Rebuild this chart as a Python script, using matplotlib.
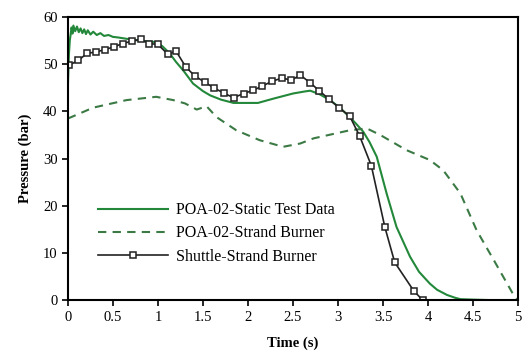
import matplotlib
matplotlib.use("Agg")
import matplotlib.pyplot as plt

plt.rcParams["font.family"] = ["Liberation Serif", "DejaVu Serif"]

# POA-02 static motor test (pressure trace)
static_t = [0.0, 0.01, 0.02, 0.04, 0.05, 0.06, 0.08, 0.10, 0.12, 0.14, 0.16, 0.18,
            0.20, 0.22, 0.25, 0.28, 0.32, 0.36, 0.40, 0.45, 0.50, 0.55, 0.65, 0.80,
            0.98, 1.05, 1.13, 1.20, 1.28, 1.39, 1.50, 1.58, 1.70, 1.84, 2.00, 2.11,
            2.28, 2.36, 2.50, 2.62, 2.69, 2.79, 2.91, 3.02, 3.13, 3.20, 3.28, 3.35,
            3.43, 3.54, 3.65, 3.80, 3.90, 4.02, 4.10, 4.21, 4.30, 4.36, 4.50, 4.70,
            4.80]
static_p = [46.0, 52.0, 55.0, 57.8, 56.5, 58.2, 57.0, 58.0, 56.8, 57.6, 56.6, 57.4,
            56.4, 57.2, 56.3, 56.9, 56.2, 56.6, 56.0, 56.2, 55.8, 55.7, 55.4, 55.0,
            54.7, 53.8, 52.3, 50.5, 48.7, 45.9, 44.3, 43.4, 42.5, 41.8, 41.8, 41.8,
            42.7, 43.1, 43.8, 44.2, 44.4, 43.7, 42.4, 40.8, 38.8, 37.4, 35.7, 33.5,
            30.4, 22.6, 15.5, 9.2, 6.0, 3.5, 2.2, 1.1, 0.5, 0.2, 0.1, 0.0, 0.0]

# POA-02 strand burner prediction
strand_t = [0.0, 0.28, 0.65, 0.98, 1.17, 1.30, 1.43, 1.54, 1.65, 1.87, 2.13, 2.39,
            2.58, 2.73, 3.13, 3.32, 3.47, 3.76, 4.02, 4.17, 4.36, 4.54, 4.73, 4.95,
            5.0]
strand_p = [38.5, 40.8, 42.4, 43.1, 42.4, 41.7, 40.4, 41.1, 38.8, 36.0, 33.9, 32.5,
            33.2, 34.3, 36.0, 36.4, 35.0, 31.8, 29.7, 27.5, 22.6, 14.8, 8.5, 1.1,
            0.0]

# Shuttle strand burner
shuttle_t = [0.01, 0.115, 0.21, 0.31, 0.41, 0.51, 0.61, 0.71, 0.81, 0.90, 1.00,
             1.11, 1.20, 1.31, 1.41, 1.52, 1.62, 1.73, 1.84, 1.95, 2.06, 2.16,
             2.27, 2.38, 2.48, 2.58, 2.69, 2.79, 2.90, 3.01, 3.13, 3.24, 3.37,
             3.52, 3.63, 3.84, 3.94]
shuttle_p = [49.8, 50.8, 52.3, 52.6, 53.1, 53.7, 54.4, 54.9, 55.3, 54.4, 54.2,
             52.1, 52.8, 49.4, 47.5, 46.2, 45.0, 43.9, 42.9, 43.8, 44.5, 45.4,
             46.4, 47.1, 46.6, 47.7, 46.1, 44.4, 42.6, 40.8, 39.0, 34.8, 28.5,
             15.5, 8.0, 2.0, 0.0]

x_ticks = [0, 0.5, 1, 1.5, 2, 2.5, 3, 3.5, 4, 4.5, 5]
x_labels = ["0", "0.5", "1", "1.5", "2", "2.5", "3", "3.5", "4", "4.5", "5"]
y_ticks = [0, 10, 20, 30, 40, 50, 60]

fig = plt.figure(figsize=(5.27, 3.56), dpi=100)
ax = fig.add_axes([0.129, 0.157, 0.854, 0.795])

ax.plot(static_t, static_p, color="#23883a", lw=1.5, label="POA-02-Static Test Data")
ax.plot(strand_t, strand_p, color="#3b7a44", lw=1.5, ls=(0, (4, 3)),
        label="POA-02-Strand Burner")
ax.plot(shuttle_t, shuttle_p, color="#222222", lw=1.2, marker="s", ms=5,
        mfc="white", mec="#222222", mew=1.1, label="Shuttle-Strand Burner")

ax.set_xlim(0, 5)
ax.set_ylim(0, 60)
ax.set_xticks(x_ticks)
ax.set_xticklabels(x_labels)
ax.set_yticks(y_ticks)
ax.tick_params(direction="out", length=4, width=1.2, labelsize=10.5, colors="black")
for side in ax.spines.values():
    side.set_linewidth(1.5)

ax.set_xlabel("Time (s)", fontsize=10.5, fontweight="bold", labelpad=9)
ax.set_ylabel("Pressure (bar)", fontsize=10.5, fontweight="bold", labelpad=8)

ax.legend(loc="lower left", bbox_to_anchor=(0.035, 0.075), frameon=False,
          fontsize=11.5, handlelength=4.4, handletextpad=0.5, labelspacing=0.45)

fig.savefig("out.png", dpi=100)
